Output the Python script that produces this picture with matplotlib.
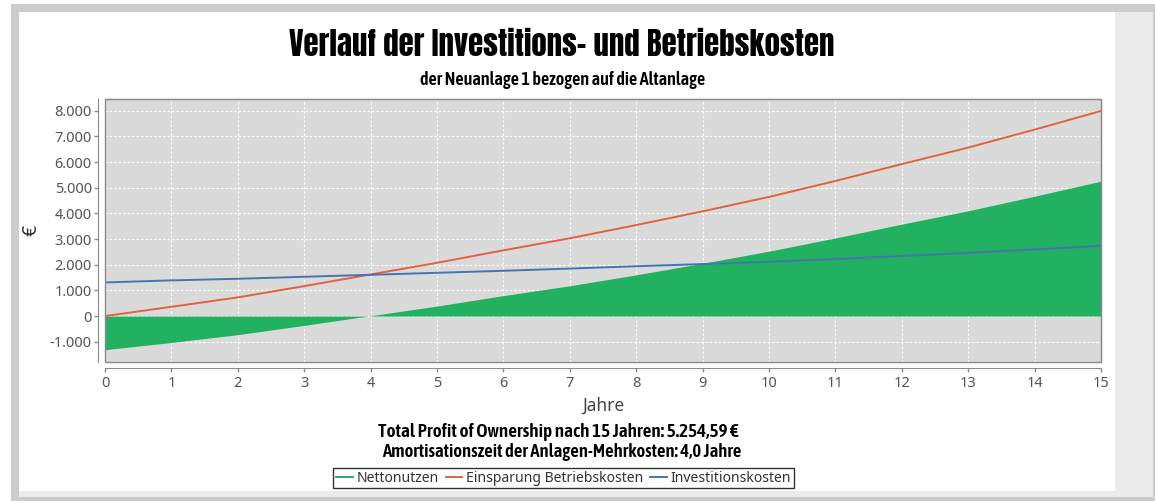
import matplotlib
matplotlib.use("Agg")
import matplotlib.pyplot as plt
from matplotlib.patches import Rectangle
from matplotlib.lines import Line2D
from matplotlib.ticker import FuncFormatter, MultipleLocator

# ---- data ----
jahre = [0, 1, 2, 3, 4, 5, 6, 7, 8, 9, 10, 11, 12, 13, 14, 15]
einsparung = [0, 360, 727, 1167, 1620, 2074, 2560, 3030, 3545, 4080, 4640, 5262, 5920, 6563, 7263, 7990]
investition = [1310, 1389, 1452, 1530, 1607, 1685, 1763, 1850, 1940, 2025, 2113, 2220, 2340, 2463, 2595, 2735]
nettonutzen = [-1310, -1029, -725, -363, 13, 389, 797, 1180, 1605, 2055, 2527, 3042, 3580, 4100, 4668, 5255]
serien = ["Nettonutzen", "Einsparung Betriebskosten", "Investitionskosten"]

title = "Verlauf der Investitions- und Betriebskosten"
subtitle = "der Neuanlage 1 bezogen auf die Altanlage"
info1 = "Total Profit of Ownership nach 15 Jahren: 5.254,59 €"
info2 = "Amortisationszeit der Anlagen-Mehrkosten: 4,0 Jahre"

W, H = 1155, 501
fig = plt.figure(figsize=(W / 100, H / 100), dpi=100, facecolor="white")
R = fig.canvas.get_renderer()

def frect(x0, y0, x1, y1, color):
    fig.patches.append(Rectangle((x0 / W, 1 - y1 / H), (x1 - x0) / W, (y1 - y0) / H,
                                 transform=fig.transFigure, facecolor=color,
                                 edgecolor="none", zorder=-10))

# frame
frect(11, 4, 1155, 501, "#cccccc")
frect(19, 12, 1153, 497, "#ebebeb")
frect(19, 12, 1115, 491, "white")

cond = ["Asap Condensed", "Barlow Condensed", "Roboto Condensed", "DejaVu Sans"]
heavy = ["Anton", "DejaVu Sans"]
tah = ["Noto Sans", "DejaVu Sans"]

ax = fig.add_axes([105 / W, 1 - 361.5 / H, (1101 - 105) / W, (361.5 - 99) / H])
ax.set_facecolor("#dadada")

green_fill = "#22b160"
red = "#e4613f"
blue = "#4575b0"
green_line = "#2ea67a"

ax.fill_between(jahre, 0, nettonutzen, color=green_fill, linewidth=0, zorder=2)
ax.plot(jahre, einsparung, color=red, lw=1.4, zorder=3)
ax.plot(jahre, investition, color=blue, lw=1.4, zorder=3)

ax.set_xlim(0, 15)
ax.set_ylim(-1770, 8455)
ax.xaxis.set_major_locator(MultipleLocator(1))
ax.yaxis.set_major_locator(MultipleLocator(1000))
ax.yaxis.set_major_formatter(FuncFormatter(lambda v, p: f"{int(v):,}".replace(",", ".")))
ax.grid(True, color="white", linestyle=(0, (2, 2)), linewidth=0.8, zorder=1)
ax.set_axisbelow(True)

for s in ["top", "right"]:
    ax.spines[s].set_color("#8a8a8a")
for s in ["left", "bottom"]:
    ax.spines[s].set_position(("outward", 5))
    ax.spines[s].set_color("#8a8a8a")
ax.add_patch(Rectangle((0, 0), 1, 1, transform=ax.transAxes, fill=False,
                       edgecolor="#8a8a8a", linewidth=1.0, clip_on=False, zorder=5))
ax.tick_params(axis="both", colors="#8a8a8a", labelcolor="#555555", labelsize=10.5,
               length=3, width=1, pad=1.5)
ax.tick_params(axis="x", pad=2.5)
for lbl in ax.get_xticklabels() + ax.get_yticklabels():
    lbl.set_family(tah)

ax.set_ylabel("€", fontsize=14, color="#333333", family=tah)
ax.yaxis.set_label_coords((41 - 105) / 996, 0.5)
ax.set_xlabel("Jahre", fontsize=12.5, color="#444444", family=tah, labelpad=4)

def fit_text(x, y, s, target_w, family, size=12, weight="bold"):
    t = fig.text(x / W, 1 - y / H, s, ha="center", va="center", fontsize=size,
                 fontweight=weight, family=family, color="black")
    w = t.get_window_extent(R).width
    t.set_fontsize(size * target_w / w)
    return t

fit_text(562, 45, title, 545, heavy, 20, "normal")
fit_text(563, 80, subtitle, 286, cond, 10, "semibold")
fit_text(558, 432, info1, 363, cond, 10, "semibold")
fit_text(562, 452, info2, 361, cond, 10, "semibold")

handles = [Line2D([0], [0], color=green_line, lw=1.4),
           Line2D([0], [0], color=red, lw=1.4),
           Line2D([0], [0], color=blue, lw=1.4)]

def make_legend(size):
    lg = fig.legend(handles, serien, loc="center", bbox_to_anchor=(563.5 / W, 1 - 478 / H),
                    ncol=3, frameon=True, fancybox=False, edgecolor="black",
                    handlelength=1.2, handletextpad=0.25, columnspacing=0.5,
                    borderpad=0.2, borderaxespad=0,
                    prop={"family": tah, "size": size})
    lg.get_frame().set_linewidth(1.0)
    for t in lg.get_texts():
        t.set_color("#333333")
    return lg

leg = make_legend(11)
w = leg.get_window_extent(R).width
leg.remove()
leg = make_legend(11 * 461 / w)

fig.savefig("out.png", dpi=100, facecolor="white")
